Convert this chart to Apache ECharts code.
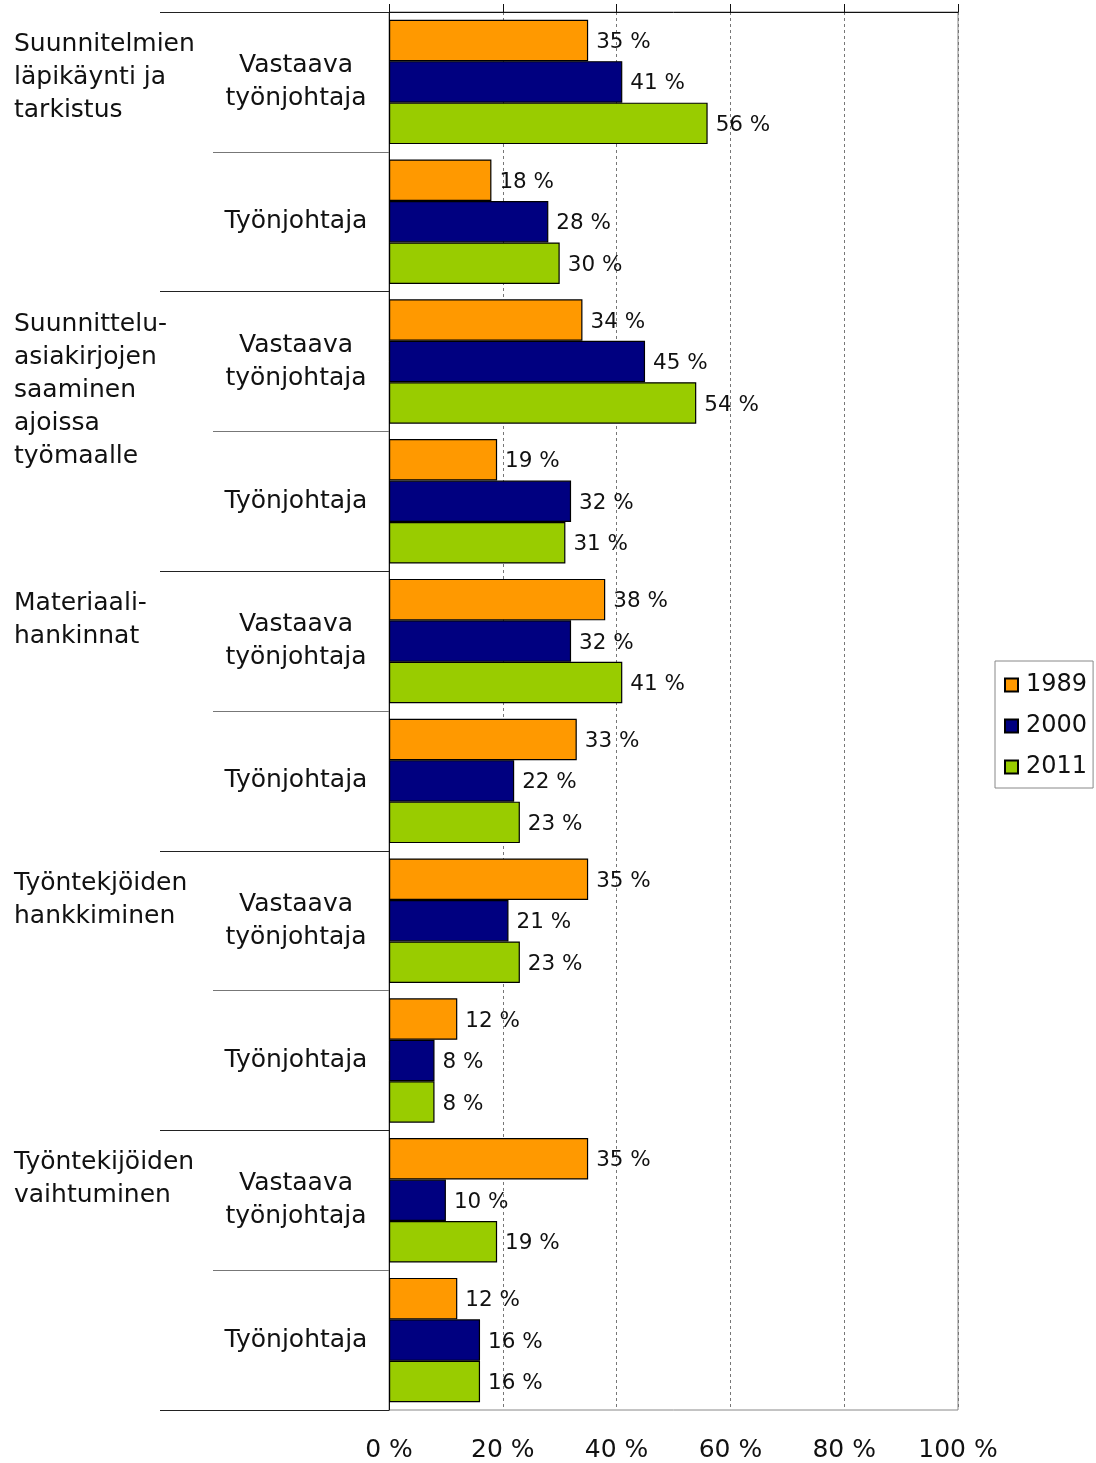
<!DOCTYPE html>
<html>
<head>
<meta charset="utf-8">
<script src="https://cdn.jsdelivr.net/npm/echarts@6/dist/echarts.min.js"></script>
<style>
  html, body { margin: 0; padding: 0; background: #fff; }
</style>
</head>
<body>
<div id="chart" style="width: 1096px; height: 1463px"></div>
<script>
// rows from top to bottom
const roles = [
  "Vastaava\ntyönjohtaja", "Työnjohtaja",
  "Vastaava\ntyönjohtaja", "Työnjohtaja",
  "Vastaava\ntyönjohtaja", "Työnjohtaja",
  "Vastaava\ntyönjohtaja", "Työnjohtaja",
  "Vastaava\ntyönjohtaja", "Työnjohtaja",
];
const groups = [
  "Suunnitelmien\nläpikäynti ja\ntarkistus",
  "Suunnittelu-\nasiakirjojen\nsaaminen\najoissa\ntyömaalle",
  "Materiaali-\nhankinnat",
  "Työntekjöiden\nhankkiminen",
  "Työntekijöiden\nvaihtuminen",
];
const years = ["1989", "2000", "2011"];
const v1989 = [35, 18, 34, 19, 38, 33, 35, 12, 35, 12];
const v2000 = [41, 28, 45, 32, 32, 22, 21, 8, 10, 16];
const v2011 = [56, 30, 54, 31, 41, 23, 23, 8, 19, 16];
const xTicks = [0, 20, 40, 60, 80, 100];

const colors = ["#FF9900", "#000080", "#99CC00"];
const font = "DejaVu Sans";

const chart = echarts.init(document.getElementById("chart"));

const makeSeries = (name, data, i) => ({
  name: name,
  type: "bar",
  data: data,
  barGap: "0%",
  barCategoryGap: "11%",
  itemStyle: { color: colors[i], borderColor: "#000", borderWidth: 1.2 },
  label: {
    show: true,
    position: "right",
    distance: 8,
    offset: [0, 2],
    formatter: "{c} %",
    fontFamily: font,
    fontSize: 21.5,
    color: "#111",
  },
});

const option = {
  animation: false,
  textStyle: { fontFamily: font },
  grid: {
    left: 389,
    top: 12,
    right: 138,
    bottom: 51,
    show: true,
    borderColor: "#888",
    borderWidth: 1,
  },
  legend: {
    orient: "vertical",
    left: 995,
    top: 661,
    data: years,
    icon: "rect",
    itemWidth: 13,
    itemHeight: 13,
    itemGap: 17,
    padding: [12, 6, 9, 9],
    borderColor: "#888",
    borderWidth: 1,
    textStyle: { fontFamily: font, fontSize: 24, color: "#111", padding: [0, 0, 0, 3] },
  },
  xAxis: [
    {
      type: "value",
      position: "top",
      min: 0,
      max: 100,
      interval: 20,
      axisLine: { show: true, lineStyle: { color: "#111", width: 1 } },
      axisTick: { show: true, length: 8, lineStyle: { color: "#111" } },
      axisLabel: { show: false },
      splitLine: { show: true, lineStyle: { color: "#777", type: [3, 3] } },
    },
    {
      type: "value",
      position: "bottom",
      min: 0,
      max: 100,
      interval: 20,
      axisLine: { show: false },
      axisTick: { show: false },
      splitLine: { show: false },
      axisLabel: {
        formatter: (v) => (xTicks.includes(v) ? v + " %" : ""),
        margin: 28,
        fontFamily: font,
        fontSize: 25,
        color: "#111",
      },
    },
  ],
  yAxis: [
    {
      type: "category",
      data: roles,
      inverse: true,
      position: "left",
      axisLine: { show: true, lineStyle: { color: "#111", width: 1 } },
      axisTick: { show: true, length: 176, lineStyle: { color: "#777" } },
      axisLabel: {
        align: "center",
        margin: 93,
        interval: 0,
        padding: [8, 0, 0, 0],
        fontFamily: font,
        fontSize: 25,
        lineHeight: 33,
        color: "#111",
      },
    },
    {
      type: "category",
      data: groups.concat([""]),
      inverse: true,
      boundaryGap: false,
      position: "left",
      axisLine: { show: false },
      axisTick: { show: true, length: 229, interval: 0, lineStyle: { color: "#222" } },
      axisLabel: {
        align: "left",
        verticalAlign: "top",
        margin: 375,
        interval: 0,
        padding: [16, 0, 0, 0],
        fontFamily: font,
        fontSize: 25,
        lineHeight: 33,
        color: "#111",
      },
    },
  ],
  series: [
    makeSeries(years[0], v1989, 0),
    makeSeries(years[1], v2000, 1),
    makeSeries(years[2], v2011, 2),
  ],
};

chart.setOption(option);
</script>
</body>
</html>
